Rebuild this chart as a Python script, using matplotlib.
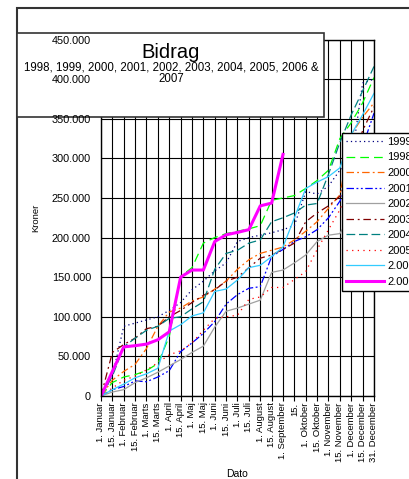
import matplotlib
matplotlib.use('Agg')
import matplotlib.pyplot as plt
from matplotlib.patches import Rectangle
from matplotlib.ticker import FuncFormatter

plt.rcParams['font.family'] = ['Liberation Sans', 'DejaVu Sans']

# kategorier (x-aksen)
dates = ['1. Januar', '15. Januar', '1. Februar', '15. Februar', '1. Marts',
         '15. Marts', '1. April', '15. April', '1. Maj', '15. Maj', '1. Juni',
         '15. Juni', '1. Juli', '15. Juli', '1. August', '15. August',
         '1. September', '15.', '1. Oktober', '15. Oktober', '1. November',
         '15. November', '1. December', '15. December', '31. December']

# bidrag pr. år
y1999 = [0, 25000, 88000, 92000, 96000, 100000, 108000, 118000, 134000, 145000,
         158000, 168000, 195000, 200000, 203000, 206000, 210000, 215000, 258000,
         255000, 265000, 285000, 295000, 395000, 400000]
y1998 = [0, 17000, 24000, 27000, 32000, 41000, 75000, 151000, 162000, 193000,
         200000, 205000, 208000, 211000, 215000, 247000, 250000, 253000, 262000,
         272000, 285000, 325000, 345000, 370000, 402000]
y2000 = [0, 20000, 31000, 40000, 60000, 88000, 106000, 111000, 120000, 125000,
         135000, 145000, 160000, 172000, 180000, 184000, 188000, 197000, 208000,
         220000, 237000, 254000, 330000, 352000, 370000]
y2001 = [0, 8000, 12000, 19000, 18000, 24000, 32000, 56000, 67000, 79000,
         94000, 116000, 128000, 136000, 138000, 176000, 185000, 195000, 201000,
         210000, 225000, 246000, 280000, 315000, 357000]
y2002 = [0, 5000, 8000, 17000, 23000, 30000, 38000, 46000, 55000, 63000,
         87000, 107000, 111000, 116000, 121000, 156000, 159000, 168000, 178000,
         195000, 203000, 205000, 230000, 265000, 300000]
y2003 = [0, 55000, 65000, 73000, 85000, 88000, 100000, 108000, 118000, 127000,
         134000, 145000, 150000, 162000, 174000, 178000, 185000, 193000, 220000,
         231000, 240000, 252000, 290000, 335000, 365000]
y2004 = [0, 25000, 62000, 73000, 83000, 88000, 98000, 100000, 110000, 119000,
         160000, 180000, 184000, 193000, 197000, 220000, 225000, 231000, 241000,
         243000, 280000, 320000, 355000, 385000, 416000]
y2005 = [0, 10000, 20000, 25000, 33000, 42000, 52000, 57000, 67000, 83000,
         98000, 100000, 102000, 122000, 125000, 137000, 137000, 147000, 157000,
         185000, 210000, 235000, 270000, 300000, 320000]
y2006 = [0, 8000, 15000, 23000, 28000, 35000, 82000, 90000, 101000, 105000,
         132000, 135000, 146500, 162000, 165000, 176000, 188000, 225000, 262000,
         270000, 277000, 288000, 330000, 355000, 382000]
y2007 = [0, 31000, 62000, 63500, 65500, 71000, 81000, 150000, 159000, 159000,
         195000, 203500, 206500, 210000, 240000, 243500, 305000]

series = [
    ('1999', y1999, '#000080', (0, (1, 2.5)), 0.9),
    ('1998', y1998, '#00ff00', (0, (7, 4)), 0.9),
    ('2000', y2000, '#ff6600', (0, (6, 2.5, 1.5, 2.5)), 0.9),
    ('2001', y2001, '#0000ff', (0, (6, 2, 1.5, 2, 1.5, 2)), 0.9),
    ('2002', y2002, '#a0a0a0', '-', 0.9),
    ('2003', y2003, '#800000', (0, (6, 3, 1.5, 3)), 0.9),
    ('2004', y2004, '#008080', (0, (7, 3)), 0.9),
    ('2005', y2005, '#ff0000', (0, (1, 3.5)), 0.9),
    ('2.006', y2006, '#33ccff', '-', 0.9),
    ('2.007', y2007, '#ff00ff', '-', 2.2),
]

W, H = 410, 479
fig = plt.figure(figsize=(W / 100, H / 100), dpi=100)
ax = fig.add_axes([101 / W, 1 - 396 / H, 273 / W, 356.5 / H])

for label, vals, color, ls, lw in series:
    ax.plot(range(len(vals)), vals, color=color, linestyle=ls, lw=lw, label=label)

ax.set_xlim(0, len(dates) - 1)
ax.set_ylim(0, 450000)
ax.set_xticks(range(len(dates)))
ax.set_xticklabels(dates, rotation=90, fontsize=6.8)
ax.set_yticks(range(0, 450001, 50000))
ax.tick_params(axis='x', direction='out', length=3.6, width=0.8, pad=1)
ax.tick_params(axis='y', labelleft=False, length=0)
ax.grid(True, color='black', lw=0.8)
for s in ax.spines.values():
    s.set_linewidth(1.0)

ax.set_xlabel('Dato', fontsize=7.5)
ax.xaxis.set_label_coords(0.5, -0.219)
ax.xaxis.label.set_va('center')
ax.set_ylabel('Kroner', fontsize=6.8)
ax.yaxis.set_label_coords(-0.238, 0.5)
ax.yaxis.label.set_va('center')

leg = ax.legend(loc='upper left', bbox_to_anchor=(342 / W, 1 - 133 / H),
                bbox_transform=fig.transFigure, borderaxespad=0, fontsize=8,
                handlelength=3.4, handletextpad=0.3, borderpad=0.35,
                labelspacing=0.5, fancybox=False, framealpha=1,
                edgecolor='black')
leg.get_frame().set_linewidth(1.0)

# ydre ramme og titelboks
fig.add_artist(Rectangle((17 / W, -0.1), 1.2, (H - 8) / H + 0.1, fill=False,
                         edgecolor='#333333', lw=1.5, transform=fig.transFigure,
                         zorder=0.5))
fig.add_artist(Rectangle((17 / W, 1 - 117 / H), 307 / W, 84 / H,
                         facecolor='white', edgecolor='#333333', lw=1.2,
                         transform=fig.transFigure, zorder=1))
fig.text(171 / W, 1 - 52 / H, 'Bidrag', fontsize=14.5, ha='center',
         va='center', zorder=2)
fig.text(171 / W, 1 - 73.5 / H,
         '1998, 1999, 2000, 2001, 2002, 2003, 2004, 2005, 2006 &\n2007',
         fontsize=8.3, ha='center', va='center', linespacing=1.0, zorder=2)

# y-akse tal oven paa titelboksen
ax2 = fig.add_axes(ax.get_position(), sharey=ax, zorder=3, label='ylabels')
ax2.patch.set_visible(False)
for s in ax2.spines.values():
    s.set_visible(False)
ax2.set_xticks([])
ax2.yaxis.set_major_formatter(
    FuncFormatter(lambda v, p: '0' if v == 0 else f'{int(v):,}'.replace(',', '.')))
ax2.tick_params(axis='y', length=0, pad=7.2, labelsize=7.8)

fig.savefig('out.png', dpi=100)
